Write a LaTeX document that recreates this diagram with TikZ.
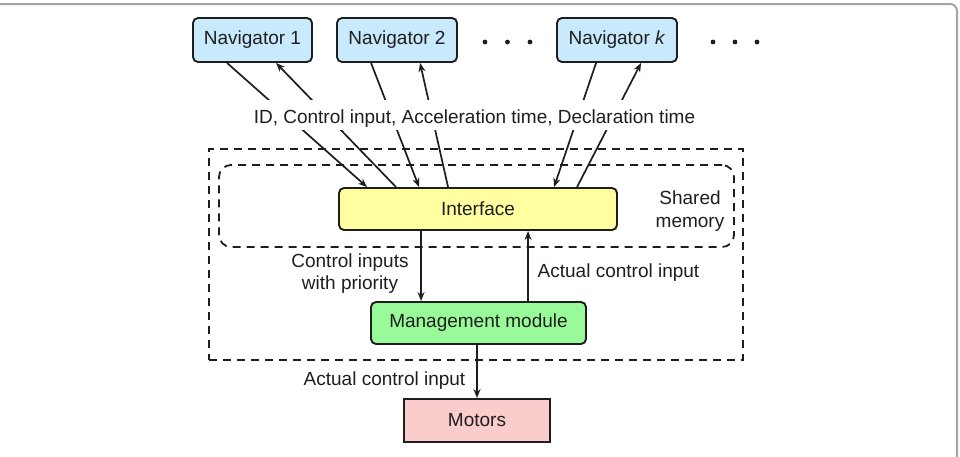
\documentclass[tikz,border=0pt]{standalone}
\usepackage{fontspec}
\setmainfont{Liberation Sans}
\usetikzlibrary{arrows.meta,calc}
\definecolor{navblue}{RGB}{200,234,252}
\definecolor{ifyellow}{RGB}{255,255,160}
\definecolor{mgreen}{RGB}{153,250,153}
\definecolor{motpink}{RGB}{250,204,204}
\definecolor{ink}{RGB}{30,30,30}
\begin{document}
\begin{tikzpicture}[x=1pt,y=-1pt,
  every node/.style={font=\fontsize{19}{22.5}\selectfont, text=ink},
  box/.style={draw=ink, line width=1.9pt, rounded corners=5pt, inner sep=0pt, anchor=center},
  arr/.style={line width=1.7pt, draw=ink, -{Stealth[length=9pt,width=7pt]}},
  dsh/.style={draw=ink, line width=1.8pt, dash pattern=on 8pt off 6pt, inner sep=0pt}]
\useasboundingbox (0,0) rectangle (960,456);
% frame
\draw[gray!70, line width=2pt, rounded corners=7pt] (0,4) -- (957,4) -- (957,457);
% grouping boxes
\node[dsh, minimum width=534pt, minimum height=211pt] (outer) at (476,254.5) {};
\node[dsh, rounded corners=12pt, minimum width=515pt, minimum height=82pt] (shared) at (476.5,206) {};
% navigators
\node[box, fill=navblue, minimum width=119pt, minimum height=44pt] (nav1) at (252.5,40) {Navigator 1};
\node[box, fill=navblue, minimum width=120pt, minimum height=44pt] (nav2) at (397,40) {Navigator 2};
\node[box, fill=navblue, minimum width=120pt, minimum height=44pt] (navk) at (617,40) {Navigator \textit{k}};
% dots
\foreach \dx in {485,507.5,530,713,735,757}{\fill[ink] (\dx,42) circle (2.4pt);}
% main boxes
\node[box, fill=ifyellow, minimum width=278pt, minimum height=42pt] (iface) at (478,209) {Interface};
\node[box, fill=mgreen, minimum width=215pt, minimum height=42pt] (mgmt) at (478.5,323) {Management module};
\node[box, rounded corners=0pt, fill=motpink, minimum width=146pt, minimum height=43pt] (motors) at (477,420.5) {Motors};
% navigator links
\draw[arr] ([xshift=35pt]nav1.south west) -- ([xshift=29pt]iface.north west);
\draw[arr] ([xshift=58pt]iface.north west) -- ([xshift=84pt]nav1.south west);
\draw[arr] ([xshift=35pt]nav2.south west) -- ([xshift=81pt]iface.north west);
\draw[arr] ([xshift=110pt]iface.north west) -- ([xshift=84pt]nav2.south west);
\draw[arr] ([xshift=40pt]navk.south west) -- ([xshift=216pt]iface.north west);
\draw[arr] ([xshift=239pt]iface.north west) -- ([xshift=85pt]navk.south west);
% label over the links
\node[fill=white, anchor=base, text height=21pt, text depth=4pt, inner xsep=3pt, inner ysep=2.5pt] (lbl) at (474.5,123.5) {ID, Control input, Acceleration time, Declaration time};
% internal links
\draw[arr] ([xshift=83pt]iface.south west) -- ([xshift=83pt]iface.south west |- mgmt.north);
\draw[arr] ([xshift=190pt]iface.south west |- mgmt.north) -- ([xshift=190pt]iface.south west);
\draw[arr] (mgmt.south -| motors.north) -- (motors.north);
% labels
\node[align=center] (cip) at (350,273.5) {Control inputs\\with priority};
\node (aci1) at (618.5,273) {Actual control input};
\node (aci2) at (384.5,381) {Actual control input};
\node[align=center] (shm) at (690,211) {Shared\\memory};
\end{tikzpicture}
\end{document}
